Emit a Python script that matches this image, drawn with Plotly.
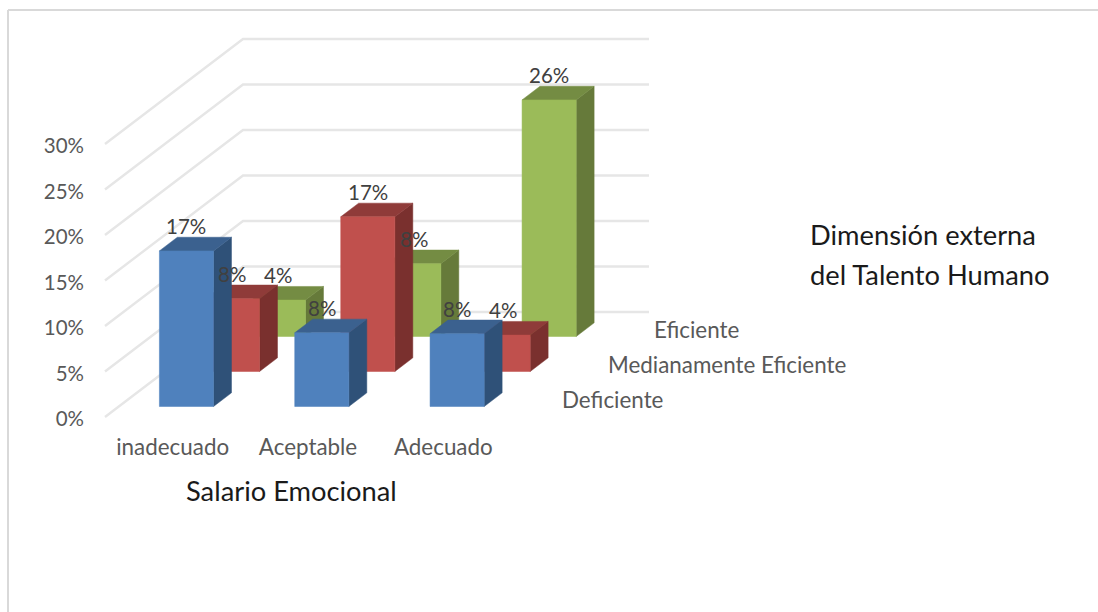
import plotly.graph_objects as go

# ---- data ----
categories = ["inadecuado", "Aceptable", "Adecuado"]
series_names = ["Deficiente", "Medianamente Eficiente", "Eficiente"]
deficiente = [17.1, 8.1, 8.0]
medianamente = [8.0, 17.0, 4.0]
eficiente = [4.0, 8.0, 26.0]
y_ticks = [0, 5, 10, 15, 20, 25, 30]

front_colors = ["#4F81BD", "#C0504D", "#9BBB59"]
top_colors = ["#3B618F", "#8F3B39", "#748C43"]
side_colors = ["#2F5178", "#7A302E", "#667A3A"]
GRID = "#E6E6E6"
FONT = "Lato"

# ---- layout ----
W, H = 1098, 612
L, B = 90, 432
PX_CAT, PX_PCT = 135.33, 9.1
X0, Y0 = 105, 417
DX, DY = 46 / PX_CAT, 35 / PX_PCT   # oblique shift per series row
GAP, BAR_W, D_START, D_LEN = 0.3, 0.4, 0.3, 0.39


def proj(c, v, d):
    return c + DX * d, v + DY * d


fig = go.Figure()

# gridlines: side wall + back wall
gx, gy = [], []
n_cat, n_ser = len(categories), len(series_names)
for t in y_ticks:
    for c, d in [(0, 0), (0, n_ser), (n_cat, n_ser)]:
        x, y = proj(c, t, d)
        gx.append(x)
        gy.append(y)
    gx.append(None)
    gy.append(None)
fig.add_trace(go.Scatter(x=gx, y=gy, mode="lines", line=dict(color=GRID, width=2.4), hoverinfo="skip"))

# bars, back row first
rows = [deficiente, medianamente, eficiente]
for s in reversed(range(n_ser)):
    faces = {"front": ([], []), "top": ([], []), "side": ([], [])}
    d0 = s + D_START
    d1 = d0 + D_LEN
    for i, v in enumerate(rows[s]):
        c0, c1 = i + GAP, i + GAP + BAR_W
        polys = {
            "front": [(c0, 0, d0), (c1, 0, d0), (c1, v, d0), (c0, v, d0)],
            "top": [(c0, v, d0), (c1, v, d0), (c1, v, d1), (c0, v, d1)],
            "side": [(c1, 0, d0), (c1, 0, d1), (c1, v, d1), (c1, v, d0)],
        }
        for k, pts in polys.items():
            for p in pts + [pts[0]]:
                x, y = proj(*p)
                faces[k][0].append(x)
                faces[k][1].append(y)
            faces[k][0].append(None)
            faces[k][1].append(None)
    for k, col in [("side", side_colors[s]), ("top", top_colors[s]), ("front", front_colors[s])]:
        fig.add_trace(go.Scatter(x=faces[k][0], y=faces[k][1], mode="lines", fill="toself",
                                 fillcolor=col, line=dict(color=col, width=0.5), hoverinfo="skip"))

annotations = []
# data labels
for s in range(n_ser):
    for i, v in enumerate(rows[s]):
        x, y = proj(i + 0.5, v, s + D_START)
        annotations.append(dict(x=x, y=y, xref="x", yref="y", yshift=25, text=f"{round(v)}%",
                                showarrow=False, font=dict(family=FONT, size=20.5, color="#404040")))
# series (depth axis) labels
for s, name in enumerate(series_names):
    x, y = proj(n_cat + 0.192, 0, s + 0.5)
    annotations.append(dict(x=x, y=y, xref="x", yref="y", xanchor="left", text=name, showarrow=False,
                            font=dict(family=FONT, size=22.4, color="#595959")))
# free titles
TITLE_FONT = dict(family=FONT, size=27.3, color="#1A1A1A")
for text, px, py, anchor in [("Salario Emocional", 184, 490, "left"),
                             ("Dimensión externa", 808, 235, "left"),
                             ("del Talento Humano", 808, 274, "left")]:
    annotations.append(dict(x=(px - L) / (W - L), y=(B - py) / B, xref="paper", yref="paper",
                            xanchor=anchor, yanchor="middle", text=text, showarrow=False, font=TITLE_FONT))

FRAME = dict(color="#D9D9D9", width=2)
shapes = [
    dict(type="line", xref="paper", yref="paper", x0=(8 - L) / (W - L), x1=1, y0=(B - 10) / B, y1=(B - 10) / B, line=FRAME),
    dict(type="line", xref="paper", yref="paper", x0=(8 - L) / (W - L), x1=(8 - L) / (W - L), y0=(B - 10) / B, y1=(B - H) / B, line=FRAME),
]

fig.update_layout(
    width=W, height=H, showlegend=False, plot_bgcolor="white", paper_bgcolor="white",
    margin=dict(l=L, r=0, t=0, b=H - B, pad=0),
    annotations=annotations, shapes=shapes,
    xaxis=dict(range=[(L - X0) / PX_CAT, (W - X0) / PX_CAT], tickvals=[i + 0.5 for i in range(n_cat)],
               ticktext=categories, showgrid=False, zeroline=False, showline=False, ticks="",
               tickfont=dict(family=FONT, size=22.4, color="#595959"), ticklabelstandoff=0),
    yaxis=dict(range=[(Y0 - B) / PX_PCT, Y0 / PX_PCT], tickvals=y_ticks, ticktext=[f"{t}%" for t in y_ticks],
               showgrid=False, zeroline=False, showline=False, ticks="", ticklabelstandoff=5, ticklabelshift=2,
               tickfont=dict(family=FONT, size=20.5, color="#595959")),
)

fig.write_html("out.html", config={"displayModeBar": False}, post_script="document.body.style.margin='0';")
